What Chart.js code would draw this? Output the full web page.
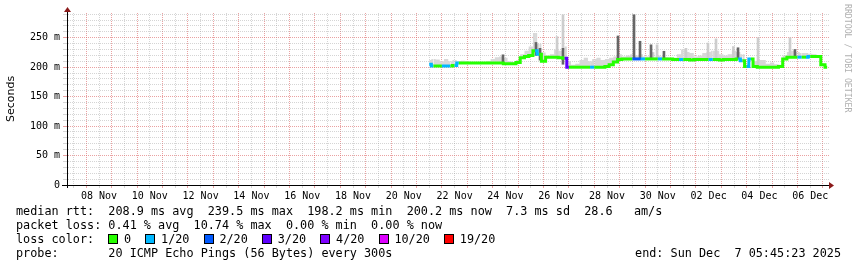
<!DOCTYPE html>
<html>
<head>
<meta charset="utf-8">
<script src="https://cdn.jsdelivr.net/npm/chart.js@4.4.0/dist/chart.umd.min.js"></script>
<style>
    body { margin: 0; background: #fff; }
    #wrap { position: relative; width: 857px; height: 267px; overflow: hidden; }
    .txt {
        position: absolute;
        left: 16px;
        font-family: "DejaVu Sans Mono", monospace;
        font-size: 11.8px;
        line-height: 14px;
        white-space: pre;
        color: #000;
    }
    .sw {
        display: inline-block;
        width: 8px;
        height: 8px;
        border: 1px solid #000;
        margin-right: calc(2ch - 8.5px);
        vertical-align: -1px;
    }
    #rrd {
        position: absolute;
        left: 843px;
        top: 4px;
        writing-mode: vertical-rl;
        font-family: "DejaVu Sans Mono", monospace;
        font-size: 8.2px;
        color: #b0b0b0;
        white-space: pre;
    }
</style>
</head>
<body>
<div id="wrap">
    <canvas id="chart" width="857" height="267"></canvas>
    <div class="txt" style="top:204px">median rtt:  208.9 ms avg  239.5 ms max  198.2 ms min  200.2 ms now  7.3 ms sd  28.6   am/s</div>
    <div class="txt" style="top:218px">packet loss: 0.41 % avg  10.74 % max  0.00 % min  0.00 % now</div>
    <div class="txt" id="lossLegend" style="top:232px">loss color:  </div>
    <div class="txt" style="top:246px">probe:       20 ICMP Echo Pings (56 Bytes) every 300s</div>
    <div class="txt" style="top:246px; left:auto; right:16px">end: Sun Dec  7 05:45:23 2025</div>
    <div id="rrd">RRDTOOL / TOBI OETIKER</div>
</div>
<script>
// time axis is in hours since 07 Nov 00:00, window ends Sun Dec 7 05:45:23
const xStart = 5.756;
const xEnd = 725.756;

// loss legend
const lossLabels = ['0', '1/20', '2/20', '3/20', '4/20', '10/20', '19/20'];
const lossColors = ['#26ff00', '#00b8ff', '#0059ff', '#5e00ff', '#7e00ff', '#dd00ff', '#ff0000'];

// median rtt (ms), one sample every 4h starting 21 Nov 12:00
const firstSample = 348;
const sampleStep = 4;
const median = [
    205, 202, 202, 202, 202, 202, 203,
    207, 207, 207, 207, 207, 207, 207, 207, 207, 207, 207, 206, 206, 206,
    208, 216, 218, 220, 228, 222, 210, 217, 217, 217, 216, 215,
    200, 200, 200, 200, 200, 200, 200, 200, 200, 201, 204, 209, 213,
    214, 214, 214, 214, 214, 214, 214, 214, 214, 214, 214, 214,
    213, 213, 213, 213, 212, 213, 213, 213, 213, 213, 213, 212, 213, 213, 213, 214,
    211, 201, 214, 201, 200, 200, 200, 200, 200, 201,
    214, 217, 217, 217, 217, 217, 218, 218, 218, 204, 200
];
// loss per sample, index into lossLabels
const loss = [
    1, 0, 0, 1, 1, 0, 1, 0, 0, 0,
    0, 0, 0, 0, 0, 0, 0, 0, 0, 0,
    0, 0, 0, 0, 0, 1, 0, 0, 0, 0,
    0, 0, 3, 0, 0, 0, 0, 0, 1, 0,
    0, 0, 0, 0, 0, 0, 0, 0, 2, 2,
    1, 0, 0, 0, 1, 0, 0, 0, 0, 1,
    0, 0, 0, 0, 0, 0, 1, 0, 0, 0,
    0, 0, 0, 1, 0, 1, 0, 0, 0, 0,
    0, 0, 0, 0, 0, 0, 0, 1, 0, 1,
    0, 0, 0, 0, 1
];
// upper edge of the smoke (ms)
const smokeHigh = [
    212, 214, 213, 210, 214, 210, 212,
    210, 211, 210, 209, 208, 209, 208, 210, 214, 217, 218, 216, 210, 209,
    212, 222, 228, 235, 258, 240, 225, 220, 222, 230, 228, 235,
    210, 204, 206, 212, 216, 210, 214, 216, 212, 214, 216, 218, 222,
    218, 220, 222, 220, 222, 218, 218, 216, 220, 218, 217, 216,
    216, 222, 230, 226, 224, 218, 220, 224, 226, 228, 228, 222, 220, 222, 228, 226,
    222, 205, 216, 210, 212, 212, 206, 208, 205, 204,
    220, 226, 228, 226, 224, 224, 223, 222, 220, 206, 202
];

// dark smoke spikes
const darkSpikeHours = [417.7, 448.9, 452.7, 474.4, 526.4, 541.5, 547.2, 557.6, 569.8, 639.8, 693.6];
const darkSpikeLow   = [207, 220, 212, 205, 212, 214, 214, 214, 214, 214, 217];
const darkSpikeHigh  = [221, 242, 232, 232, 253, 289, 244, 238, 227, 233, 230];

// light smoke spikes
const lightSpikeHours = [468.8, 474.4, 559.5, 563.3, 590.6, 611.4, 619.0, 635.4, 658.7, 688.9];
const lightSpikeLow   = [217, 232, 214, 214, 213, 213, 213, 213, 200, 217];
const lightSpikeHigh  = [252, 289, 225, 238, 232, 241, 248, 235, 250, 250];

// y axis
const yMax = 292;
const yStep = 10;
const yLabelStep = 50;

const monthNames = ['Jan', 'Feb', 'Mar', 'Apr', 'May', 'Jun', 'Jul', 'Aug', 'Sep', 'Oct', 'Nov', 'Dec'];

// legend row
const legend = document.getElementById('lossLegend');
lossLabels.forEach((lab, i) => {
    const sw = document.createElement('span');
    sw.className = 'sw';
    sw.style.background = lossColors[i];
    legend.appendChild(sw);
    legend.appendChild(document.createTextNode(lab + '  '));
});

const sampleHours = median.map((_, i) => firstSample + i * sampleStep);
const medianData = median.map((v, i) => ({ x: sampleHours[i], y: v }));
const smokeData = smokeHigh.map((v, i) => ({ x: sampleHours[i], y: v }));
const darkData = darkSpikeHours.map((h, i) => ({ x: h, y: [darkSpikeLow[i], darkSpikeHigh[i]] }));
const lightData = lightSpikeHours.map((h, i) => ({ x: h, y: [lightSpikeLow[i], lightSpikeHigh[i]] }));

const xGrid = [];
for (let h = 12; h < xEnd; h += 12) xGrid.push(h);

function dayLabel(h) {
    const d = new Date(2025, 10, 7 + Math.floor(h / 24));
    return String(d.getDate()).padStart(2, '0') + ' ' + monthNames[d.getMonth()];
}

const majorColor = 'rgba(220, 100, 100, 0.6)';
const minorColor = 'rgba(150, 150, 150, 0.4)';

const axisArrows = {
    id: 'axisArrows',
    afterDraw(chart) {
        const { ctx, chartArea: a } = chart;
        ctx.save();
        ctx.strokeStyle = '#000';
        ctx.lineWidth = 1;
        ctx.beginPath();
        ctx.moveTo(a.left + 0.5, a.bottom + 3);
        ctx.lineTo(a.left + 0.5, a.top - 2);
        ctx.moveTo(a.left - 5, a.bottom + 0.5);
        ctx.lineTo(a.right + 1, a.bottom + 0.5);
        ctx.stroke();
        ctx.fillStyle = '#8b1a1a';
        ctx.beginPath();
        ctx.moveTo(a.left + 0.5, a.top - 6);
        ctx.lineTo(a.left - 3, a.top - 1);
        ctx.lineTo(a.left + 4, a.top - 1);
        ctx.closePath();
        ctx.fill();
        ctx.beginPath();
        ctx.moveTo(a.right + 5, a.bottom + 0.5);
        ctx.lineTo(a.right, a.bottom - 3);
        ctx.lineTo(a.right, a.bottom + 4);
        ctx.closePath();
        ctx.fill();
        ctx.restore();
    }
};

new Chart(document.getElementById('chart').getContext('2d'), {
    type: 'line',
    data: {
        datasets: [
            {
                label: 'smoke',
                data: smokeData,
                stepped: 'middle',
                borderWidth: 0,
                pointRadius: 0,
                backgroundColor: '#d8d8d8',
                fill: 1,
                order: 4
            },
            {
                label: 'median',
                data: medianData,
                stepped: 'middle',
                borderWidth: 3,
                pointRadius: 0,
                fill: false,
                borderColor: lossColors[0],
                segment: {
                    borderColor: c => lossColors[loss[c.p0DataIndex]]
                },
                order: 0
            },
            {
                type: 'bar',
                label: 'dark smoke',
                data: darkData,
                backgroundColor: '#666666',
                barThickness: 2,
                grouped: false,
                order: 2
            },
            {
                type: 'bar',
                label: 'light smoke',
                data: lightData,
                backgroundColor: '#cdcdcd',
                barThickness: 2,
                grouped: false,
                order: 3
            }
        ]
    },
    options: {
        responsive: false,
        devicePixelRatio: 1,
        animation: false,
        layout: { padding: { left: 0, top: 13, right: 28, bottom: 0 } },
        plugins: {
            legend: { display: false },
            tooltip: { enabled: false }
        },
        scales: {
            x: {
                type: 'linear',
                min: xStart,
                max: xEnd,
                offset: false,
                afterFit: s => { s.height = 82; },
                afterBuildTicks: s => { s.ticks = xGrid.map(v => ({ value: v })); },
                grid: {
                    offset: false,
                    lineWidth: 1,
                    tickLength: 3,
                    color: c => (c.tick && c.tick.value % 24 === 0) ? majorColor : minorColor
                },
                border: { display: true, color: '#000', dash: [1, 1] },
                ticks: {
                    autoSkip: false,
                    maxRotation: 0,
                    padding: 2,
                    color: '#000',
                    font: { family: 'DejaVu Sans Mono', size: 10 },
                    callback: v => (v % 48 === 36) ? dayLabel(v) : ''
                }
            },
            y: {
                min: 0,
                max: yMax,
                afterFit: s => { s.width = 67; },
                grid: {
                    lineWidth: 1,
                    tickLength: 4,
                    color: c => (c.tick && c.tick.value % yLabelStep === 0) ? majorColor : minorColor
                },
                border: { display: true, color: '#000', dash: [1, 1] },
                ticks: {
                    stepSize: yStep,
                    autoSkip: false,
                    includeBounds: false,
                    padding: 3,
                    color: '#000',
                    font: { family: 'DejaVu Sans Mono', size: 10 },
                    callback: v => v % yLabelStep !== 0 ? '' : (v === 0 ? '0' : v + ' m')
                },
                title: {
                    display: true,
                    text: 'Seconds',
                    color: '#000',
                    padding: { top: 5, bottom: 0 },
                    font: { family: 'DejaVu Sans', size: 11 }
                }
            }
        }
    },
    plugins: [axisArrows]
});
</script>
</body>
</html>
